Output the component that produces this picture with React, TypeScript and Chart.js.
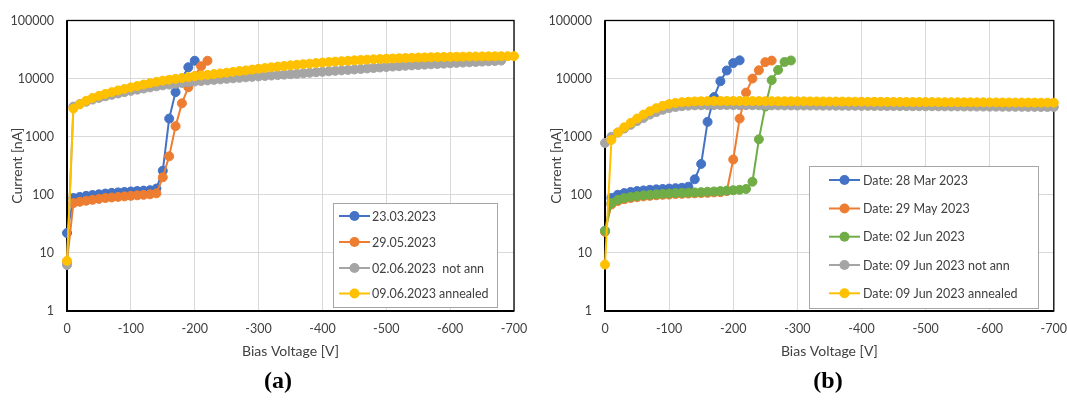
import React, { useEffect, useRef } from "react";
import { Chart, registerables } from "chart.js";

Chart.register(...registerables);

// ---------- data ----------
const VOLTS = [
  0, -10, -20, -30, -40, -50, -60, -70, -80, -90, -100, -110, -120, -130, -140, -150, -160, -170, -180, -190,
  -200, -210, -220, -230, -240, -250, -260, -270, -280, -290, -300, -310, -320, -330, -340, -350, -360, -370,
  -380, -390, -400, -410, -420, -430, -440, -450, -460, -470, -480, -490, -500, -510, -520, -530, -540, -550,
  -560, -570, -580, -590, -600, -610, -620, -630, -640, -650, -660, -670, -680, -690, -700,
];

const Y_TICKS = [1, 10, 100, 1000, 10000, 100000];
const X_MIN = -700;
const X_MAX = 0;

// Panel (a)
const A_LABELS = ["23.03.2023", "29.05.2023", "02.06.2023  not ann", "09.06.2023 annealed"];
const A_BLUE = [22, 88, 92, 96, 99, 102, 105, 108, 110, 112, 114, 116, 118, 120, 128, 260, 2050, 5850, 10000, 15700, 20300];
const A_ORANGE = [7, 72, 76, 79, 82, 85, 88, 90, 92, 94, 96, 98, 100, 102, 106, 200, 460, 1520, 3750, 7100, 11000, 16300, 20300];
const A_GRAY = [
  6.2, 3300, 3650, 4000, 4350, 4650, 4950, 5250, 5550, 5850, 6150, 6450, 6750, 7050, 7350, 7650, 7900, 8150, 8400,
  8650, 8900, 9100, 9300, 9500, 9700, 9900, 10100, 10300, 10500, 10700, 10900, 11100, 11300, 11500, 11700, 11900,
  12100, 12350, 12600, 12850, 13100, 13350, 13600, 13850, 14100, 14350, 14650, 14950, 15250, 15550, 15850, 16100,
  16350, 16600, 16850, 17100, 17350, 17600, 17850, 18100, 18350, 18600, 18850, 19100, 19350, 19600, 19850, 20100,
  20400,
];
const A_YELLOW = [
  7.3, 3050, 3600, 4150, 4650, 5050, 5450, 5850, 6250, 6650, 7050, 7450, 7900, 8350, 8800, 9200, 9550, 9900, 10250,
  10600, 11000, 11300, 11600, 11950, 12300, 12650, 13050, 13450, 13850, 14300, 14750, 15200, 15650, 16100, 16500,
  16900, 17300, 17700, 18100, 18500, 18900, 19250, 19600, 19950, 20300, 20600, 20900, 21200, 21500, 21750, 22000,
  22200, 22400, 22600, 22800, 23000, 23150, 23300, 23450, 23550, 23650, 23750, 23850, 23950, 24000, 24100, 24150,
  24200, 24250, 24300, 24350,
];

// Panel (b)
const B_LABELS = [
  "Date: 28 Mar 2023",
  "Date: 29 May 2023",
  "Date: 02 Jun 2023",
  "Date: 09 Jun 2023 not ann",
  "Date: 09 Jun 2023 annealed",
];
const B_BLUE = [24, 88, 100, 107, 112, 116, 119, 122, 124, 126, 128, 130, 132, 138, 185, 340, 1800, 4800, 9000, 13800, 18500, 20600];
const B_ORANGE = [
  23, 68, 78, 84, 88, 91, 94, 96, 98, 100, 101, 103, 104, 105, 106, 107, 108, 110, 111, 116, 405, 2050, 5750, 10000,
  13900, 19200, 20400,
];
const B_GREEN = [
  24, 72, 82, 88, 92, 95, 98, 100, 102, 104, 105, 107, 108, 109, 110, 111, 113, 114, 116, 118, 120, 122, 126, 168,
  900, 3300, 9400, 14100, 19300, 20500,
];
const B_GRAY = [
  780, 1000, 1180, 1380, 1600, 1850, 2100, 2400, 2650, 2900, 3100, 3250, 3350, 3420, 3460, 3480, 3490, 3500, 3500,
  3500, 3490, 3490, 3480, 3480, 3470, 3470, 3460, 3460, 3450, 3450, 3440, 3440, 3430, 3430, 3420, 3420, 3410, 3410,
  3400, 3400, 3390, 3390, 3380, 3380, 3370, 3370, 3360, 3360, 3350, 3350, 3340, 3340, 3330, 3330, 3320, 3320, 3310,
  3310, 3300, 3300, 3290, 3290, 3280, 3280, 3270, 3270, 3260, 3260, 3250, 3250, 3240,
];
const B_YELLOW = [
  6.3, 880, 1180, 1450, 1730, 2050, 2400, 2750, 3100, 3400, 3650, 3820, 3930, 4000, 4050, 4080, 4100, 4110, 4120,
  4120, 4120, 4110, 4110, 4100, 4100, 4090, 4090, 4080, 4080, 4070, 4070, 4060, 4050, 4050, 4040, 4030, 4030, 4020,
  4010, 4010, 4000, 3990, 3990, 3980, 3980, 3970, 3960, 3960, 3950, 3950, 3940, 3940, 3930, 3930, 3920, 3920, 3910,
  3910, 3900, 3900, 3890, 3890, 3880, 3880, 3870, 3870, 3860, 3860, 3850, 3850, 3850,
];

// ---------- styles ----------
const BLUE = "#4472C4";
const ORANGE = "#ED7D31";
const GRAY = "#A5A5A5";
const YELLOW = "#FFC000";
const GREEN = "#70AD47";
const TEXT = "#404040";
const GRID = "#d9d9d9";
const FONT = "Lato, 'Open Sans', sans-serif";

type LegendSpec = { box: [number, number, number, number]; lineX: number; textX: number; rows: number[] };

function toPoints(vals: number[]) {
  return vals.map((v, i) => ({ x: VOLTS[i], y: v }));
}

function makeDataset(label: string, vals: number[], color: string, idx: number, n: number) {
  return {
    label,
    data: toPoints(vals),
    borderColor: color,
    backgroundColor: color,
    borderWidth: 2,
    pointRadius: 4.5,
    pointBorderWidth: 1,
    pointBackgroundColor: color,
    pointBorderColor: color,
    tension: 0,
    clip: false as any,
    order: n - idx,
  };
}

function Panel(props: {
  left: number;
  width: number;
  areaLeft: number;
  padTop: number;
  padRight: number;
  yTitleOffset: number;
  series: { label: string; vals: number[]; color: string }[];
  legend: LegendSpec;
}) {
  const ref = useRef<HTMLCanvasElement | null>(null);
  useEffect(() => {
    if (!ref.current) return;
    const n = props.series.length;
    const legend = props.legend;
    const frame = {
      id: "frame",
      beforeDatasetsDraw(chart: any) {
        const { ctx, chartArea } = chart;
        ctx.save();
        ctx.strokeStyle = "#000";
        ctx.lineWidth = 1.3;
        ctx.strokeRect(chartArea.left, chartArea.top, chartArea.right - chartArea.left, chartArea.bottom - chartArea.top);
        ctx.lineWidth = 2;
        ctx.beginPath();
        ctx.moveTo(chartArea.left, chartArea.top);
        ctx.lineTo(chartArea.left, chartArea.bottom);
        ctx.lineTo(chartArea.right, chartArea.bottom);
        ctx.stroke();
        ctx.restore();
      },
    };
    const legendPlugin = {
      id: "customLegend",
      afterDraw(chart: any) {
        const { ctx } = chart;
        const [x0, y0, x1, y1] = legend.box;
        ctx.save();
        ctx.fillStyle = "#fff";
        ctx.fillRect(x0, y0, x1 - x0, y1 - y0);
        ctx.strokeStyle = "#a6a6a6";
        ctx.lineWidth = 1;
        ctx.strokeRect(x0 + 0.5, y0 + 0.5, x1 - x0, y1 - y0);
        ctx.font = `12.5px ${FONT}`;
        ctx.textBaseline = "middle";
        ctx.textAlign = "left";
        props.series.forEach((s, i) => {
          const y = legend.rows[i];
          ctx.strokeStyle = s.color;
          ctx.lineWidth = 2;
          ctx.beginPath();
          ctx.moveTo(legend.lineX, y);
          ctx.lineTo(legend.lineX + 31, y);
          ctx.stroke();
          ctx.fillStyle = s.color;
          ctx.beginPath();
          ctx.arc(legend.lineX + 15.5, y, 5, 0, Math.PI * 2);
          ctx.fill();
          ctx.fillStyle = TEXT;
          ctx.fillText(s.label, legend.textX, y + 0.5);
        });
        ctx.restore();
      },
    };
    const chart = new Chart(ref.current, {
      type: "line",
      data: {
        datasets: props.series.map((s, i) => makeDataset(s.label, s.vals, s.color, i, n)) as any,
      },
      options: {
        animation: false,
        responsive: false,
        maintainAspectRatio: false,
        layout: { padding: { left: 0, top: props.padTop, right: props.padRight, bottom: 0 } },
        plugins: { legend: { display: false }, tooltip: { enabled: false } },
        scales: {
          x: {
            type: "linear",
            min: X_MIN,
            max: X_MAX,
            reverse: true,
            afterFit: (s: any) => {
              s.height = 405 - 311;
            },
            ticks: {
              stepSize: 100,
              padding: 0,
              color: TEXT,
              font: { family: FONT, size: 12.5 },
              maxRotation: 0,
              callback: (v: any) => String(v),
            },
            grid: { color: GRID, lineWidth: 1, drawTicks: true, tickLength: 10, tickColor: "rgba(0,0,0,0)" },
            border: { display: false },
            title: {
              display: true,
              text: "Bias Voltage [V]",
              color: TEXT,
              font: { family: FONT, size: 14 },
              padding: { top: 0, bottom: 45 },
            },
          },
          y: {
            type: "logarithmic",
            min: 1,
            max: 100000,
            afterFit: (s: any) => {
              s.width = props.areaLeft;
            },
            afterBuildTicks: (s: any) => {
              s.ticks = Y_TICKS.map((v) => ({ value: v }));
            },
            ticks: {
              padding: 13,
              color: TEXT,
              font: { family: FONT, size: 12.5 },
              callback: (v: any) => String(v),
            },
            grid: { color: GRID, lineWidth: 1, drawTicks: false },
            border: { display: false },
            title: {
              display: true,
              text: "Current [nA]",
              color: TEXT,
              font: { family: FONT, size: 14 },
              padding: { top: props.yTitleOffset, bottom: 0 },
            },
          },
        },
      },
      plugins: [frame, legendPlugin],
    } as any);
    return () => chart.destroy();
  }, []);
  return (
    <canvas
      ref={ref}
      width={props.width}
      height={405}
      style={{ position: "absolute", left: props.left, top: 0, width: props.width, height: 405 }}
    />
  );
}

const captionStyle = (cx: number): React.CSSProperties => ({
  position: "absolute",
  left: cx - 50,
  width: 100,
  top: 367,
  height: 26,
  lineHeight: "26px",
  textAlign: "center",
  fontFamily: "'Liberation Serif', 'Times New Roman', serif",
  fontWeight: "bold",
  fontSize: 24,
  color: "#000",
});

export default function App() {
  return (
    <div style={{ position: "absolute", left: 0, top: 0, width: 1067, height: 405, background: "#fff", overflow: "hidden" }}>
      <Panel
        left={0}
        width={530}
        areaLeft={67}
        padTop={13}
        padRight={16}
        yTitleOffset={9}
        series={[
          { label: A_LABELS[0], vals: A_BLUE, color: BLUE },
          { label: A_LABELS[1], vals: A_ORANGE, color: ORANGE },
          { label: A_LABELS[2], vals: A_GRAY, color: GRAY },
          { label: A_LABELS[3], vals: A_YELLOW, color: YELLOW },
        ]}
        legend={{ box: [333, 203, 497, 307], lineX: 339, textX: 372, rows: [216, 242, 268, 293.5] }}
      />
      <Panel
        left={530}
        width={537}
        areaLeft={75}
        padTop={12}
        padRight={13}
        yTitleOffset={18}
        series={[
          { label: B_LABELS[0], vals: B_BLUE, color: BLUE },
          { label: B_LABELS[1], vals: B_ORANGE, color: ORANGE },
          { label: B_LABELS[2], vals: B_GREEN, color: GREEN },
          { label: B_LABELS[3], vals: B_GRAY, color: GRAY },
          { label: B_LABELS[4], vals: B_YELLOW, color: YELLOW },
        ]}
        legend={{ box: [279, 166, 508, 308], lineX: 299, textX: 333, rows: [180, 208.5, 236.7, 265, 293.3] }}
      />
      <div style={captionStyle(278)}>(a)</div>
      <div style={captionStyle(828)}>(b)</div>
    </div>
  );
}
